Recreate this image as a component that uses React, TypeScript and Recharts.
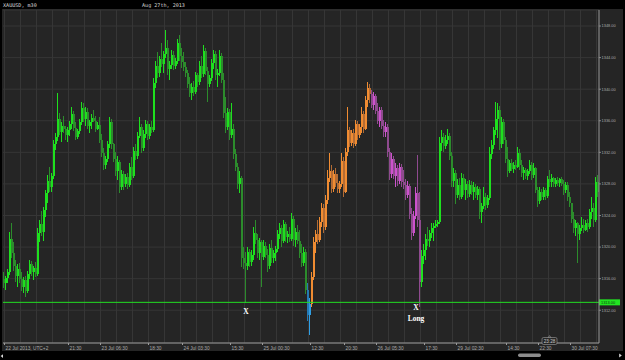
import {
  ComposedChart,
  Bar,
  XAxis,
  YAxis,
  CartesianGrid,
  ReferenceLine,
  ReferenceDot
} from "recharts";

// XAUUSD m30 bars, 22 Jul - 30 Jul 2013
const opens = [
  1316.0, 1315.4, 1316.1, 1316.8, 1321.0, 1319.2, 1317.6, 1316.3, 1317.2, 1315.9,
  1315.0, 1315.8, 1314.5, 1316.6, 1317.9, 1316.9, 1317.3, 1316.6, 1321.8, 1322.9,
  1321.9, 1324.7, 1326.8, 1328.4, 1327.6, 1329.0, 1333.1, 1333.9, 1336.2, 1334.6,
  1335.3, 1334.9, 1334.2, 1334.8, 1335.6, 1336.8, 1335.1, 1334.0, 1334.7, 1335.9,
  1337.6, 1336.2, 1337.1, 1335.3, 1335.8, 1336.4, 1336.0, 1335.0, 1335.5, 1333.6,
  1331.9, 1330.4, 1331.2, 1333.0, 1335.8, 1333.0, 1331.2, 1329.6, 1330.8, 1327.6,
  1329.2, 1328.0, 1328.9, 1327.9, 1330.2, 1329.0, 1332.2, 1331.5, 1334.1, 1335.2,
  1332.6, 1334.3, 1335.6, 1334.1, 1335.2, 1334.8, 1340.8, 1342.9, 1342.0, 1343.8,
  1343.2, 1344.4, 1345.2, 1342.5, 1343.1, 1344.3, 1342.9, 1343.6, 1345.9, 1344.2,
  1343.4, 1342.8, 1342.0, 1340.7, 1339.5, 1340.3, 1339.6, 1341.8, 1340.9, 1343.0,
  1341.9, 1344.8, 1342.3, 1340.6, 1341.4, 1343.3, 1344.5, 1341.8, 1342.1, 1344.2,
  1341.2, 1337.0, 1335.2, 1337.1, 1334.2, 1335.0, 1331.8, 1330.2, 1328.0, 1328.8,
  1318.6, 1318.0, 1317.6, 1319.4, 1318.1, 1319.0, 1321.8, 1320.9, 1319.2, 1320.6,
  1318.8, 1320.2, 1319.0, 1317.6, 1319.9, 1318.6, 1319.2, 1319.8, 1321.6, 1322.4,
  1320.8, 1322.9, 1321.3, 1321.7, 1321.0, 1323.6, 1320.9, 1321.9, 1320.8, 1319.3,
  1318.0, 1319.4, 1314.6, 1311.4, 1312.8, 1316.2, 1320.6, 1321.6, 1320.9, 1323.2,
  1324.9, 1322.6, 1326.0, 1328.8, 1329.6, 1327.4, 1329.2, 1328.1, 1327.3, 1328.0,
  1330.9, 1327.0, 1332.1, 1334.8, 1333.2, 1334.4, 1333.1, 1335.6, 1334.2, 1335.2,
  1336.9, 1335.0, 1338.6, 1340.2, 1339.4, 1338.0, 1339.1, 1337.2, 1336.0, 1337.4,
  1335.4, 1334.6, 1335.2, 1332.0, 1329.2, 1331.2, 1329.0, 1330.0, 1328.4, 1330.1,
  1328.2, 1327.9, 1326.6, 1327.8, 1324.2, 1321.8, 1324.0, 1326.8, 1323.4, 1315.6,
  1318.9, 1319.6, 1321.0, 1320.8, 1321.8, 1322.4, 1322.7, 1322.9, 1323.2, 1333.2,
  1334.0, 1332.8, 1333.6, 1334.1, 1331.6, 1328.4, 1329.4, 1326.6, 1327.9, 1326.4,
  1328.8, 1327.2, 1328.0, 1326.7, 1327.9, 1327.0, 1327.6, 1326.6, 1327.3, 1324.4,
  1325.2, 1326.4, 1325.3, 1326.2, 1331.8, 1332.9, 1334.8, 1336.2, 1337.4, 1333.0,
  1335.8, 1333.6, 1331.2, 1329.6, 1330.6, 1329.9, 1330.4, 1330.2, 1331.9, 1330.4,
  1329.4, 1329.8, 1329.0, 1329.6, 1330.4, 1329.1, 1330.0, 1327.2, 1325.8, 1327.0,
  1326.4, 1327.2, 1326.5, 1328.6, 1328.2, 1328.8, 1328.0, 1328.5, 1328.1, 1328.6,
  1328.0, 1327.2, 1327.9, 1326.4, 1325.6, 1323.6, 1322.4, 1323.0, 1321.6, 1322.4,
  1322.8, 1322.2, 1323.0, 1322.5, 1324.4, 1325.0, 1323.4, 1328.2
];

const highs = [
  1316.9, 1316.4, 1317.2, 1321.9, 1323.0, 1320.6, 1318.4, 1317.8, 1318.0, 1316.8,
  1316.2, 1316.4, 1317.0, 1318.4, 1318.2, 1317.6, 1318.1, 1322.4, 1323.4, 1324.6,
  1325.1, 1327.2, 1329.1, 1330.1, 1329.4, 1333.6, 1334.4, 1339.5, 1337.0, 1335.8,
  1336.6, 1335.4, 1335.2, 1336.0, 1337.7, 1337.2, 1335.9, 1335.0, 1336.2, 1338.4,
  1338.2, 1337.8, 1337.6, 1336.1, 1336.9, 1337.4, 1336.6, 1335.9, 1336.5, 1334.3,
  1332.6, 1331.5, 1333.4, 1336.5, 1336.2, 1333.2, 1332.0, 1331.6, 1331.0, 1329.8,
  1329.6, 1329.2, 1329.4, 1330.6, 1331.4, 1332.7, 1333.1, 1334.6, 1336.5, 1335.6,
  1334.8, 1336.1, 1336.0, 1335.6, 1336.0, 1341.4, 1343.6, 1344.7, 1344.2, 1345.8,
  1344.9, 1347.5, 1346.2, 1343.6, 1345.0, 1344.8, 1344.0, 1346.4, 1346.9, 1345.2,
  1344.7, 1343.4, 1342.4, 1341.6, 1340.8, 1341.0, 1342.2, 1342.0, 1343.6, 1344.2,
  1345.6, 1345.2, 1342.8, 1341.8, 1343.8, 1345.0, 1344.9, 1342.6, 1345.0, 1344.6,
  1342.0, 1339.0, 1337.6, 1337.5, 1338.2, 1335.6, 1332.4, 1330.6, 1329.6, 1329.0,
  1320.0, 1319.4, 1320.0, 1319.8, 1319.6, 1322.6, 1323.4, 1321.6, 1321.2, 1320.9,
  1320.9, 1320.6, 1319.8, 1320.4, 1320.9, 1319.6, 1320.2, 1322.2, 1323.0, 1322.8,
  1323.4, 1323.2, 1322.0, 1322.6, 1324.3, 1323.9, 1322.4, 1322.8, 1322.2, 1320.4,
  1320.0, 1319.8, 1315.4, 1313.6, 1316.8, 1321.3, 1322.2, 1323.4, 1323.8, 1325.6,
  1325.4, 1326.6, 1329.8, 1331.9, 1330.4, 1329.8, 1330.0, 1329.2, 1328.4, 1331.9,
  1331.4, 1332.6, 1337.7, 1335.2, 1334.8, 1335.0, 1336.1, 1336.0, 1335.6, 1337.7,
  1337.3, 1339.2, 1340.9, 1340.6, 1339.9, 1339.6, 1339.4, 1338.2, 1337.8, 1337.8,
  1336.1, 1335.8, 1335.6, 1332.6, 1331.9, 1331.6, 1330.6, 1330.4, 1330.6, 1330.5,
  1329.8, 1328.6, 1328.4, 1328.0, 1325.0, 1324.6, 1327.6, 1331.7, 1327.0, 1319.6,
  1320.4, 1321.6, 1322.5, 1322.2, 1323.0, 1323.0, 1323.4, 1323.4, 1333.9, 1334.8,
  1334.4, 1334.2, 1335.0, 1334.5, 1332.0, 1330.0, 1329.8, 1328.6, 1328.8, 1329.4,
  1329.2, 1328.6, 1328.4, 1328.5, 1328.4, 1328.2, 1328.0, 1327.8, 1327.6, 1325.6,
  1327.6, 1326.8, 1326.6, 1332.7, 1333.6, 1335.2, 1338.4, 1338.2, 1337.9, 1336.5,
  1336.2, 1334.0, 1332.7, 1331.0, 1331.2, 1330.8, 1331.0, 1332.7, 1332.4, 1331.0,
  1330.1, 1330.0, 1329.9, 1331.0, 1330.8, 1330.6, 1330.2, 1327.6, 1327.6, 1327.4,
  1327.6, 1327.5, 1329.0, 1329.8, 1329.2, 1328.9, 1328.8, 1328.9, 1328.8, 1328.9,
  1328.5, 1328.2, 1328.3, 1327.0, 1325.6, 1324.4, 1323.4, 1323.2, 1322.8, 1323.8,
  1323.6, 1323.4, 1323.6, 1324.8, 1326.3, 1325.6, 1328.9, 1329.1
];

const lows = [
  1314.8, 1314.6, 1315.5, 1316.5, 1318.6, 1317.0, 1315.6, 1315.0, 1315.4, 1314.4,
  1314.2, 1313.7, 1314.2, 1316.0, 1316.4, 1315.8, 1316.2, 1316.3, 1320.6, 1321.4,
  1320.8, 1323.8, 1325.6, 1327.0, 1327.0, 1328.6, 1332.3, 1333.4, 1334.2, 1333.3,
  1334.5, 1333.6, 1333.3, 1334.1, 1335.0, 1334.7, 1333.6, 1333.7, 1334.3, 1335.5,
  1335.8, 1335.4, 1334.9, 1334.4, 1335.0, 1335.9, 1334.6, 1334.8, 1333.2, 1331.4,
  1329.8, 1329.9, 1330.8, 1332.6, 1332.4, 1330.8, 1329.0, 1328.5, 1326.8, 1327.2,
  1327.2, 1327.6, 1327.4, 1327.6, 1328.5, 1328.8, 1331.0, 1331.2, 1333.8, 1331.9,
  1332.2, 1333.8, 1333.6, 1333.7, 1334.4, 1334.6, 1340.2, 1341.4, 1341.6, 1342.8,
  1342.0, 1343.9, 1341.8, 1341.2, 1342.6, 1342.4, 1342.5, 1343.2, 1343.6, 1342.7,
  1342.3, 1341.5, 1340.2, 1339.0, 1338.6, 1339.2, 1339.4, 1340.3, 1340.5, 1341.4,
  1341.5, 1341.8, 1338.4, 1340.3, 1341.0, 1342.6, 1341.2, 1340.3, 1341.7, 1340.8,
  1336.4, 1334.4, 1334.8, 1333.6, 1333.8, 1331.2, 1329.6, 1327.4, 1326.8, 1317.5,
  1317.2, 1312.9, 1317.1, 1317.5, 1317.6, 1318.4, 1320.4, 1318.6, 1318.4, 1314.9,
  1318.4, 1318.6, 1316.8, 1317.2, 1318.0, 1318.0, 1318.2, 1319.4, 1321.0, 1320.0,
  1320.5, 1320.6, 1320.5, 1320.6, 1320.8, 1320.2, 1320.0, 1320.4, 1318.6, 1317.5,
  1317.6, 1314.0, 1310.6, 1308.9, 1312.4, 1315.8, 1319.2, 1320.4, 1320.6, 1322.6,
  1321.8, 1322.2, 1325.5, 1328.2, 1326.8, 1327.0, 1327.6, 1326.8, 1326.8, 1327.6,
  1326.3, 1326.8, 1331.6, 1332.7, 1332.8, 1332.6, 1332.8, 1333.6, 1333.8, 1334.4,
  1334.4, 1334.8, 1337.8, 1338.2, 1337.6, 1337.4, 1336.8, 1335.6, 1335.2, 1335.0,
  1333.9, 1334.0, 1331.4, 1328.5, 1328.8, 1328.6, 1327.6, 1327.8, 1328.0, 1327.6,
  1327.4, 1326.0, 1326.2, 1323.6, 1320.9, 1321.4, 1323.6, 1322.5, 1312.4, 1315.0,
  1317.8, 1318.4, 1320.2, 1320.0, 1321.2, 1320.8, 1322.4, 1322.5, 1322.9, 1332.2,
  1332.0, 1332.4, 1333.0, 1331.0, 1327.6, 1327.6, 1325.4, 1326.2, 1326.0, 1326.1,
  1326.6, 1326.0, 1326.2, 1326.4, 1326.6, 1326.0, 1326.2, 1326.0, 1323.6, 1323.0,
  1324.8, 1324.7, 1325.0, 1326.0, 1331.2, 1332.4, 1334.2, 1333.8, 1332.3, 1332.6,
  1333.0, 1330.6, 1328.9, 1329.4, 1329.6, 1329.4, 1329.8, 1330.0, 1329.8, 1328.9,
  1328.5, 1328.6, 1328.5, 1329.2, 1328.5, 1328.8, 1326.8, 1325.1, 1325.4, 1326.0,
  1326.0, 1326.0, 1326.2, 1327.6, 1327.6, 1327.6, 1327.6, 1327.8, 1327.6, 1327.7,
  1326.6, 1326.8, 1325.8, 1325.1, 1323.0, 1321.8, 1321.4, 1318.0, 1320.9, 1322.0,
  1321.8, 1322.0, 1321.9, 1322.3, 1323.6, 1322.5, 1323.2, 1326.4
];

const closes = [
  1315.4, 1316.1, 1316.8, 1321.0, 1319.2, 1317.6, 1316.3, 1317.2, 1315.9, 1315.0,
  1315.8, 1314.5, 1316.6, 1317.9, 1316.9, 1317.3, 1316.6, 1321.8, 1322.9, 1321.9,
  1324.7, 1326.8, 1328.4, 1327.6, 1329.0, 1333.1, 1333.9, 1336.2, 1334.6, 1335.3,
  1334.9, 1334.2, 1334.8, 1335.6, 1336.8, 1335.1, 1334.0, 1334.7, 1335.9, 1337.6,
  1336.2, 1337.1, 1335.3, 1335.8, 1336.4, 1336.0, 1335.0, 1335.5, 1333.6, 1331.9,
  1330.4, 1331.2, 1333.0, 1335.8, 1333.0, 1331.2, 1329.6, 1330.8, 1327.6, 1329.2,
  1328.0, 1328.9, 1327.9, 1330.2, 1329.0, 1332.2, 1331.5, 1334.1, 1335.2, 1332.6,
  1334.3, 1335.6, 1334.1, 1335.2, 1334.8, 1340.8, 1342.9, 1342.0, 1343.8, 1343.2,
  1344.4, 1345.2, 1342.5, 1343.1, 1344.3, 1342.9, 1343.6, 1345.9, 1344.2, 1343.4,
  1342.8, 1342.0, 1340.7, 1339.5, 1340.3, 1339.6, 1341.8, 1340.9, 1343.0, 1341.9,
  1344.8, 1342.3, 1340.6, 1341.4, 1343.3, 1344.5, 1341.8, 1342.1, 1344.2, 1341.2,
  1337.0, 1335.2, 1337.1, 1334.2, 1335.0, 1331.8, 1330.2, 1328.0, 1328.8, 1318.6,
  1318.0, 1317.6, 1319.4, 1318.1, 1319.0, 1321.8, 1320.9, 1319.2, 1320.6, 1318.8,
  1320.2, 1319.0, 1317.6, 1319.9, 1318.6, 1319.2, 1319.8, 1321.6, 1322.4, 1320.8,
  1322.9, 1321.3, 1321.7, 1321.0, 1323.6, 1320.9, 1321.9, 1320.8, 1319.3, 1318.0,
  1319.4, 1314.6, 1311.4, 1312.8, 1316.2, 1320.6, 1321.6, 1320.9, 1323.2, 1324.9,
  1322.6, 1326.0, 1328.8, 1329.6, 1327.4, 1329.2, 1328.1, 1327.3, 1328.0, 1330.9,
  1327.0, 1332.1, 1334.8, 1333.2, 1334.4, 1333.1, 1335.6, 1334.2, 1335.2, 1336.9,
  1335.0, 1338.6, 1340.2, 1339.4, 1338.0, 1339.1, 1337.2, 1336.0, 1337.4, 1335.4,
  1334.6, 1335.2, 1332.0, 1329.2, 1331.2, 1329.0, 1330.0, 1328.4, 1330.1, 1328.2,
  1327.9, 1326.6, 1327.8, 1324.2, 1321.8, 1324.0, 1326.8, 1323.4, 1315.6, 1318.9,
  1319.6, 1321.0, 1320.8, 1321.8, 1322.4, 1322.7, 1322.9, 1323.2, 1333.2, 1334.0,
  1332.8, 1333.6, 1334.1, 1331.6, 1328.4, 1329.4, 1326.6, 1327.9, 1326.4, 1328.8,
  1327.2, 1328.0, 1326.7, 1327.9, 1327.0, 1327.6, 1326.6, 1327.3, 1324.4, 1325.2,
  1326.4, 1325.3, 1326.2, 1331.8, 1332.9, 1334.8, 1336.2, 1337.4, 1333.0, 1335.8,
  1333.6, 1331.2, 1329.6, 1330.6, 1329.9, 1330.4, 1330.2, 1331.9, 1330.4, 1329.4,
  1329.8, 1329.0, 1329.6, 1330.4, 1329.1, 1330.0, 1327.2, 1325.8, 1327.0, 1326.4,
  1327.2, 1326.5, 1328.6, 1328.2, 1328.8, 1328.0, 1328.5, 1328.1, 1328.6, 1328.0,
  1327.2, 1327.9, 1326.4, 1325.6, 1323.6, 1322.4, 1323.0, 1321.6, 1322.4, 1322.8,
  1322.2, 1323.0, 1322.5, 1324.4, 1325.0, 1323.4, 1328.2, 1327.0
];

// colour runs of the indicator painting the bars (bar index ranges)
const runStarts = [0, 152, 154, 184, 209];
const runHues = ["green", "blue", "orange", "purple", "green"];

const tickIdx = [0, 32, 48, 72, 89, 113, 129, 153, 170, 186, 210, 226, 251, 267, 283];
const tickLabels = [
  "22 Jul 2013, UTC+2", "21:30", "23 Jul 06:30", "18:30", "24 Jul 03:30", "15:30",
  "25 Jul 00:30", "12:30", "20:30", "26 Jul 05:30", "17:30", "29 Jul 02:30",
  "14:30", "22:30", "30 Jul 07:30"
];
const priceTicks = [
  1310, 1312, 1314, 1316, 1318, 1320, 1322, 1324, 1326, 1328,
  1330, 1332, 1334, 1336, 1338, 1340, 1342, 1344, 1346, 1348
];

const levelPrice = 1313;
const noteIdx = [121, 206];
const notePrice = [1311.9, 1312.4];
const noteText = [["X"], ["X", "Long"]];

const palette: Record<string, { up: string; down: string }> = {
  green: { up: "#1ee01e", down: "#2c8c2c" },
  blue: { up: "#2f9fe4", down: "#2579b4" },
  orange: { up: "#f08c32", down: "#b46c34" },
  purple: { up: "#cc52cc", down: "#8f4a8f" }
};

const hueAt = (i: number) => {
  let h = runHues[0];
  runStarts.forEach((s, k) => {
    if (i >= s) h = runHues[k];
  });
  return h;
};

const rows = opens.map((o, i) => ({
  i,
  o,
  h: highs[i],
  l: lows[i],
  c: closes[i],
  range: [lows[i], highs[i]],
  hue: hueAt(i)
}));

const axisFont = "'Liberation Sans', Arial, sans-serif";

function Candle(props: any) {
  const { x, y, width, height } = props;
  const d = props.payload ?? props;
  const top = Math.min(y, y + height);
  const span = Math.abs(height);
  const k = span / (d.h - d.l || 1);
  const py = (v: number) => top + (d.h - v) * k;
  const bTop = py(Math.max(d.o, d.c));
  const bBot = py(Math.min(d.o, d.c));
  const col = d.c >= d.o ? palette[d.hue].up : palette[d.hue].down;
  const left = Math.round(x);
  return (
    <g shapeRendering="crispEdges">
      <rect x={left} y={top} width={1} height={Math.max(span, 1)} fill={col} />
      <rect x={left} y={bTop} width={Math.max(Math.round(width), 1)} height={Math.max(bBot - bTop, 1)} fill={col} />
    </g>
  );
}

function XTick({ x, y, payload }: any) {
  const label = tickLabels[tickIdx.indexOf(payload.value)];
  const px = Math.round(x) + 0.5;
  return (
    <g>
      <line x1={px} x2={px} y1={y} y2={y + 2} stroke="#9a9a9a" strokeWidth={1} />
      <text x={px + 1} y={y + 6.6} fontSize={4.8} fontFamily={axisFont} fill="#a9a9a9">
        {label}
      </text>
    </g>
  );
}

function YTick({ x, y, payload }: any) {
  return (
    <g>
      <line x1={x} x2={x + 2} y1={y} y2={y} stroke="#9a9a9a" strokeWidth={0.8} />
      <text x={x + 2.6} y={y + 1.4} fontSize={3.9} fontFamily={axisFont} fill="#a9a9a9">
        {payload.value.toFixed(2)}
      </text>
    </g>
  );
}

function LevelTag({ viewBox }: any) {
  const x = viewBox.x + viewBox.width;
  const y = viewBox.y;
  return (
    <g>
      <rect x={x} y={y - 3} width={21} height={6} fill="#22e422" />
      <text x={x + 2} y={y + 1.4} fontSize={3.9} fontFamily={axisFont} fill="#0b3a0b">
        {levelPrice.toFixed(2)}
      </text>
    </g>
  );
}

function Note({ cx, cy, lines }: any) {
  return (
    <g>
      {lines.map((t: string, k: number) => (
        <text
          key={t}
          x={cx}
          y={cy + 2.6 + k * 11}
          textAnchor="middle"
          fontSize={7.5}
          fontWeight="bold"
          fontFamily="'Liberation Serif', 'Times New Roman', serif"
          fill="#ffffff"
        >
          {t}
        </text>
      ))}
    </g>
  );
}

export default function App() {
  return (
    <div style={{ position: "absolute", left: 0, top: 0, width: 625, height: 360, background: "#000", overflow: "hidden" }}>
      <div style={{ position: "absolute", left: 2, top: 9, width: 621, height: 342, background: "#252525" }} />
      <div style={{ position: "absolute", left: 0, top: 0 }}>
        <ComposedChart
          width={625}
          height={360}
          data={rows}
          margin={{ top: 10, right: 0, bottom: 0, left: 3 }}
          barCategoryGap={0}
          barGap={0}
        >
          <CartesianGrid
            stroke="#363636"
            verticalCoordinatesGenerator={(p: any) => {
              const left = p?.offset?.left ?? 3;
              const w = p?.offset?.width ?? 596;
              const band = w / rows.length;
              const pts: number[] = [];
              for (let k = 0; k < rows.length; k += 8) pts.push(Math.round(left + band * (k + 0.5)) + 0.5);
              return pts;
            }}
          />
          <XAxis
            dataKey="i"
            type="category"
            ticks={tickIdx}
            interval={0}
            height={17}
            tickSize={0}
            tickMargin={0}
            tickLine={false}
            axisLine={{ stroke: "#9a9a9a" }}
            tick={<XTick />}
          />
          <YAxis
            orientation="right"
            width={26}
            domain={[1307.85, 1350.03]}
            ticks={priceTicks}
            allowDataOverflow
            tickSize={0}
            tickMargin={0}
            tickLine={false}
            axisLine={{ stroke: "#9a9a9a" }}
            tick={<YTick />}
          />
          <Bar dataKey="range" shape={Candle} isAnimationActive={false} />
          <ReferenceLine
            y={levelPrice}
            stroke="#22e022"
            strokeWidth={1}
            ifOverflow="visible"
            label={<LevelTag />}
          />
          {noteIdx.map((idx, k) => (
            <ReferenceDot
              key={idx}
              x={idx}
              y={notePrice[k]}
              r={0}
              ifOverflow="visible"
              shape={(p: any) => <Note cx={p.cx} cy={p.cy} lines={noteText[k]} />}
            />
          ))}
        </ComposedChart>
      </div>
      <svg width={625} height={360} style={{ position: "absolute", left: 0, top: 0, pointerEvents: "none" }}>
        <text x={3} y={6.8} fontSize={5.1} fontFamily="'DejaVu Sans Mono', monospace" fill="#dcdcdc">
          XAUUSD, m30
        </text>
        <text x={142} y={6.8} fontSize={5.1} fontFamily="'DejaVu Sans Mono', monospace" fill="#dcdcdc">
          Aug 27th, 2013
        </text>
        <g>
          <rect x={542} y={337.5} width={15} height={7} rx={1.5} fill="#262626" stroke="#a0a0a0" strokeWidth={0.6} />
          <polygon points="548,337.6 549.5,335.6 551,337.6" fill="#262626" stroke="#a0a0a0" strokeWidth={0.6} />
          <text x={549.5} y={342.6} textAnchor="middle" fontSize={4.6} fontFamily={axisFont} fill="#c8c8c8">
            23:28
          </text>
        </g>
        <rect x={518} y={353.5} width={23} height={3.5} rx={1.7} fill="#8c8c8c" />
        <polygon points="3,354.2 3,358 0.6,356.1" fill="#d8d8d8" />
        <polygon points="619.2,353.6 619.2,357.4 621.8,355.5" fill="#d8d8d8" />
      </svg>
    </div>
  );
}
